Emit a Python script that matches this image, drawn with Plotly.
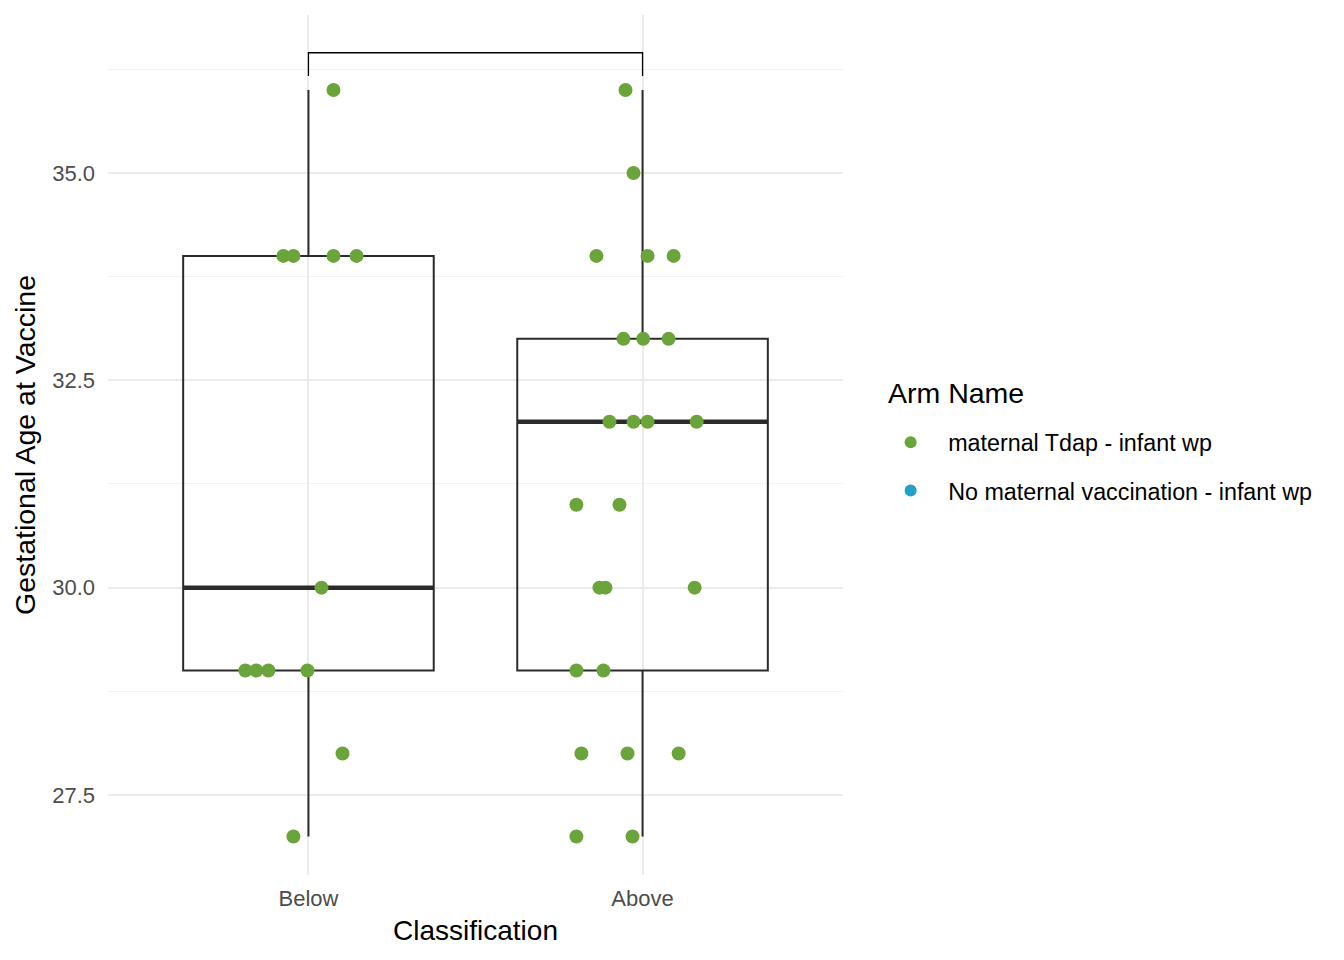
import plotly.graph_objects as go

# ---- data ----
categories = ["Below", "Above"]
cat_pos = [0, 1]

# box statistics
box_q1 = [29.0, 29.0]
box_median = [30.0, 32.0]
box_q3 = [34.0, 33.0]
box_low = [27.0, 27.0]
box_high = [36.0, 36.0]

# points (values and jitter offsets)
below_y = [36, 34, 34, 34, 34, 30, 29, 29, 29, 29, 28, 27]
below_jit = [0.075, -0.075, -0.045, 0.075, 0.144, 0.039, -0.189, -0.156, -0.120, -0.003, 0.102, -0.045]

above_y = [36, 35, 34, 34, 34, 33, 33, 33, 32, 32, 32, 32, 31, 31, 30, 30, 30, 29, 29, 28, 28, 28, 27, 27]
above_jit = [-0.051, -0.027, -0.138, 0.015, 0.093, -0.057, 0.002, 0.078, -0.099, -0.027, 0.015, 0.162,
             -0.198, -0.069, -0.129, -0.111, 0.156, -0.198, -0.117, -0.183, -0.045, 0.108, -0.198, -0.030]

legend_title = "Arm Name"
arm_names = ["maternal Tdap - infant wp", "No maternal vaccination - infant wp"]
arm_colors = ["#6AA43A", "#23A0C8"]

bracket_top = 36.45
bracket_tip = 36.17

box_width = 0.75
line_col = "#2B2B2B"
FONT = "Liberation Sans, Arial, Helvetica, sans-serif"

fig = go.Figure()

fig.add_trace(go.Box(
    x=cat_pos, q1=box_q1, median=box_median, q3=box_q3,
    lowerfence=box_low, upperfence=box_high,
    width=box_width, whiskerwidth=0,
    fillcolor="rgba(0,0,0,0)", line=dict(color=line_col, width=2),
    boxpoints=False, showlegend=False, hoverinfo="skip",
))

# thicker medians
for xc, m in zip(cat_pos, box_median):
    fig.add_trace(go.Scatter(
        x=[xc - box_width / 2, xc + box_width / 2], y=[m, m], mode="lines",
        line=dict(color=line_col, width=4.5), showlegend=False, hoverinfo="skip",
    ))

# bracket
fig.add_trace(go.Scatter(
    x=[cat_pos[0], cat_pos[0], cat_pos[1], cat_pos[1]],
    y=[bracket_tip, bracket_top, bracket_top, bracket_tip],
    mode="lines", line=dict(color="black", width=1.3),
    showlegend=False, hoverinfo="skip",
))

# points
px = [cat_pos[0] + j for j in below_jit] + [cat_pos[1] + j for j in above_jit]
py = below_y + above_y
fig.add_trace(go.Scatter(
    x=px, y=py, mode="markers",
    marker=dict(color=arm_colors[0], size=14),
    name=arm_names[0], legendgroup="a",
))
fig.add_trace(go.Scatter(
    x=[None], y=[None], mode="markers",
    marker=dict(color=arm_colors[1], size=14),
    name=arm_names[1], legendgroup="b",
))

fig.add_annotation(
    text=legend_title, xref="paper", yref="paper", x=1.059, y=0.5605,
    xanchor="left", yanchor="middle", showarrow=False,
    font=dict(size=28.5, color="black", family=FONT),
)

fig.update_layout(
    width=1336, height=952,
    margin=dict(l=100, r=501, t=7, b=85),
    paper_bgcolor="white", plot_bgcolor="white",
    font=dict(family=FONT, color="black"),
    legend=dict(
        font=dict(size=23.3, color="black"),
        x=1.041, xanchor="left", y=0.475, yanchor="middle",
        itemsizing="constant", tracegroupgap=15, itemwidth=65,
    ),
    xaxis=dict(
        range=[-0.6, 1.6], tickvals=cat_pos, ticktext=categories,
        showgrid=True, gridcolor="#EBEBEB", gridwidth=1.8,
        zeroline=False, showline=False, ticks="",
        tickfont=dict(size=22, color="#4D4D4D"), ticklabelstandoff=8,
        title=dict(text="Classification", font=dict(size=28, color="black"), standoff=10),
    ),
    yaxis=dict(
        range=[26.535, 36.905], tick0=27.5, dtick=2.5, tickformat=".1f",
        showgrid=True, gridcolor="#EBEBEB", gridwidth=1.8,
        minor=dict(tick0=28.75, dtick=2.5, showgrid=True, gridcolor="#F2F2F2", gridwidth=1.2),
        zeroline=False, showline=False, ticks="",
        tickfont=dict(size=22, color="#4D4D4D"), ticklabelstandoff=12,
        title=dict(text="Gestational Age at Vaccine", font=dict(size=28.5, color="black"), standoff=8),
    ),
)

fig.write_html("out.html")
